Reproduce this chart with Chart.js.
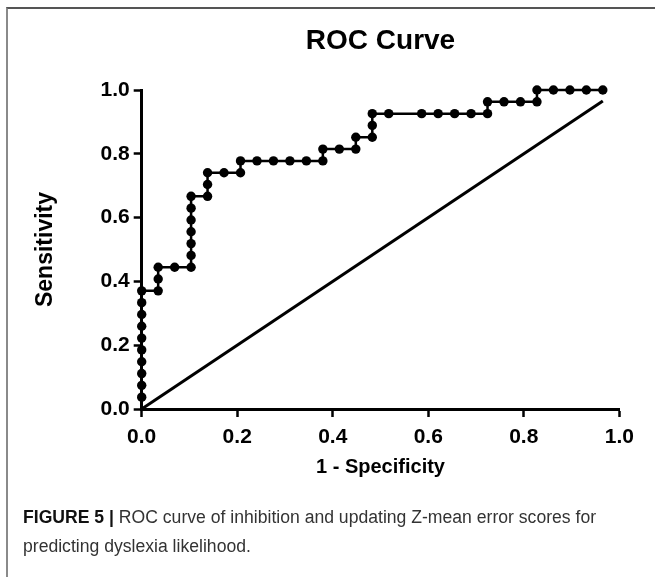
<!DOCTYPE html>
<html>
<head>
<meta charset="utf-8">
<script src="https://cdn.jsdelivr.net/npm/chart.js@4/dist/chart.umd.min.js"></script>
<style>
  html, body { margin: 0; padding: 0; background: #fff; }
  body { width: 655px; height: 577px; position: relative; overflow: hidden; }
  #frame { position: absolute; left: 6px; top: 7px; width: 660px; height: 600px;
           border-top: 2px solid #555; border-left: 2px solid #8a8a8a; box-sizing: border-box; }
  #wrap { position: absolute; left: 0; top: 0; width: 655px; height: 577px; }
  .cap { position: absolute; left: 23px; font-family: 'Liberation Sans', Arial, sans-serif;
         font-size: 17.6px; color: #333; white-space: nowrap; line-height: 20px; }
  .cap b { color: #111; }
</style>
</head>
<body>
<div id="frame"></div>
<div id="wrap"><canvas id="c" width="655" height="577"></canvas></div>
<div class="cap" id="cap1" style="top:507px;"><b>FIGURE 5 |</b> ROC curve of inhibition and updating Z-mean error scores for</div>
<div class="cap" id="cap2" style="top:536px;">predicting dyslexia likelihood.</div>
<script>
// ROC curve points (1 - Specificity, Sensitivity)
const fpr = [
  0, 0, 0, 0, 0, 0, 0, 0, 0, 0,
  0.0345, 0.0345, 0.0345,
  0.0690,
  0.1034, 0.1034, 0.1034, 0.1034, 0.1034, 0.1034, 0.1034,
  0.1379, 0.1379, 0.1379,
  0.1724,
  0.2069, 0.2069,
  0.2414, 0.2759, 0.3103, 0.3448, 0.3793,
  0.3793,
  0.4138, 0.4483,
  0.4483,
  0.4828, 0.4828, 0.4828,
  0.5172, 0.5862, 0.6207, 0.6552, 0.6897, 0.7241,
  0.7241,
  0.7586, 0.7931, 0.8276,
  0.8276,
  0.8621, 0.8966, 0.9310, 0.9655
];
const sensitivity = [
  0.0370, 0.0741, 0.1111, 0.1481, 0.1852, 0.2222, 0.2593, 0.2963, 0.3333, 0.3704,
  0.3704, 0.4074, 0.4444,
  0.4444,
  0.4444, 0.4815, 0.5185, 0.5556, 0.5926, 0.6296, 0.6667,
  0.6667, 0.7037, 0.7407,
  0.7407,
  0.7407, 0.7778,
  0.7778, 0.7778, 0.7778, 0.7778, 0.7778,
  0.8148,
  0.8148, 0.8148,
  0.8519,
  0.8519, 0.8889, 0.9259,
  0.9259, 0.9259, 0.9259, 0.9259, 0.9259, 0.9259,
  0.9630,
  0.9630, 0.9630, 0.9630,
  1.0000,
  1.0000, 1.0000, 1.0000, 1.0000
];
// Line of identity
const refX = [0, 0.9655];
const refY = [0, 0.9655];
// Axis ticks
const xTickValues = [0, 0.2, 0.4, 0.6, 0.8, 1.0];
const yTickValues = [0, 0.2, 0.4, 0.6, 0.8, 1.0];
const chartTitle = 'ROC Curve';
const xTitle = '1 - Specificity';
const yTitle = 'Sensitivity';

const FONT = "'Liberation Sans', Arial, sans-serif";
const INK = '#000';

new Chart(document.getElementById('c'), {
  type: 'scatter',
  data: {
    datasets: [
      {
        data: fpr.map((x, i) => ({ x: x, y: sensitivity[i] })),
        showLine: true,
        borderColor: INK,
        backgroundColor: INK,
        borderWidth: 2.5,
        pointRadius: 4.7,
        pointBorderWidth: 0,
        pointHoverRadius: 4.7,
        clip: false,
        tension: 0
      },
      {
        data: refX.map((x, i) => ({ x: x, y: refY[i] })),
        showLine: true,
        borderColor: INK,
        borderWidth: 3,
        pointRadius: 0,
        clip: false
      }
    ]
  },
  options: {
    responsive: false,
    animation: false,
    events: [],
    layout: { padding: { left: 0, right: 35.7, top: 0, bottom: 98 } },
    plugins: {
      legend: { display: false },
      tooltip: { enabled: false },
      title: {
        display: true,
        text: chartTitle,
        fullSize: false,
        color: INK,
        font: { family: FONT, size: 28, weight: 'bold', lineHeight: 1.2 },
        padding: { top: 24, bottom: 32.4 }
      }
    },
    scales: {
      x: {
        type: 'linear',
        min: 0, max: 1,
        afterBuildTicks: s => { s.ticks = xTickValues.map(v => ({ value: v })); },
        afterFit: s => { s.height = 70; },
        ticks: {
          color: INK,
          padding: 8,
          maxRotation: 0,
          font: { family: FONT, size: 21, weight: 'bold' },
          callback: v => Number(v).toFixed(1)
        },
        grid: { display: true, drawOnChartArea: false, drawTicks: true, tickLength: 8, tickWidth: 2.5, tickColor: INK },
        border: { display: true, color: INK, width: 3 },
        title: { display: true, text: xTitle, color: INK, padding: 0,
                 font: { family: FONT, size: 20, weight: 'bold', lineHeight: 1.2 } }
      },
      y: {
        type: 'linear',
        min: 0, max: 1,
        afterBuildTicks: s => { s.ticks = yTickValues.map(v => ({ value: v })); },
        afterFit: s => { s.width = 141.7; },
        ticks: {
          color: INK,
          padding: 4,
          font: { family: FONT, size: 21, weight: 'bold' },
          callback: v => Number(v).toFixed(1)
        },
        grid: { display: true, drawOnChartArea: false, drawTicks: true, tickLength: 8, tickWidth: 2.5, tickColor: INK },
        border: { display: true, color: INK, width: 3 },
        title: { display: true, text: yTitle, color: INK, padding: { top: 32, bottom: 0 },
                 font: { family: FONT, size: 23, weight: 'bold', lineHeight: 1.2 } }
      }
    }
  }
});
</script>
</body>
</html>
